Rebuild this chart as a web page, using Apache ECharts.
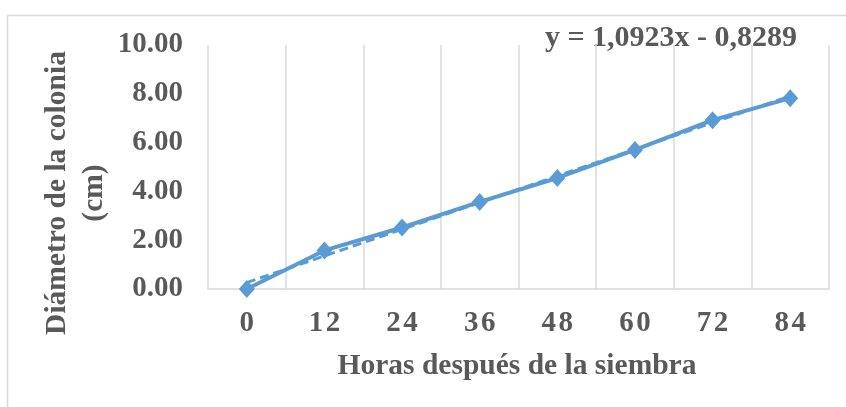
<!DOCTYPE html>
<html>
<head>
<meta charset="utf-8">
<script src="https://cdn.jsdelivr.net/npm/echarts@6/dist/echarts.min.js"></script>
<style>
  html, body { margin: 0; padding: 0; background: #fff; }
  #chart { width: 846px; height: 407px; }
</style>
</head>
<body>
<div id="chart"></div>
<script>
// Colony diameter growth over hours after sowing
const hours = ['0', '12', '24', '36', '48', '60', '72', '84'];
const diameterCm = [0.00, 1.58, 2.52, 3.57, 4.55, 5.70, 6.92, 7.82];
const yTicks = [0, 2, 4, 6, 8, 10];

// Linear trend: y = slope * x + intercept, with x = 1..n over the categories
const trendSlope = 1.0923;
const trendIntercept = -0.8289;
const trendLabel = 'y = 1,0923x - 0,8289';
const trendValues = hours.map((_, i) => +(trendSlope * (i + 1) + trendIntercept).toFixed(4));

const textColor = '#595959';
const lineColor = '#5B9BD5';
const gridColor = '#D9D9D9';
const serif = '"Liberation Serif", "Times New Roman", serif';

const chart = echarts.init(document.getElementById('chart'), null, { renderer: 'canvas' });

chart.setOption({
  animation: false,
  backgroundColor: '#ffffff',
  grid: { left: 208, right: 17, top: 45, bottom: 118 },
  xAxis: {
    type: 'category',
    data: hours,
    boundaryGap: true,
    axisLine: { show: true, lineStyle: { color: gridColor, width: 1.5 } },
    axisTick: { show: false },
    splitLine: { show: true, lineStyle: { color: gridColor, width: 1.5 } },
    axisLabel: {
      color: textColor, fontFamily: serif, fontWeight: 'bold', fontSize: 29, margin: 20,
      formatter: v => v.split('').join('\u200A')
    }
  },
  yAxis: {
    type: 'value',
    min: yTicks[0],
    max: yTicks[yTicks.length - 1],
    interval: 2,
    axisLine: { show: false },
    axisTick: { show: false },
    splitLine: { show: false },
    axisLabel: {
      color: textColor, fontFamily: serif, fontWeight: 'bold', fontSize: 29, margin: 25,
      formatter: v => v.toFixed(2)
    }
  },
  graphic: [
    {
      type: 'rect',
      shape: { x: 7.5, y: 15.5, width: 900, height: 500 },
      style: { fill: 'none', stroke: gridColor, lineWidth: 1.5 },
      silent: true, z: -1
    },
    {
      type: 'text',
      x: 671, y: 38,
      style: {
        text: trendLabel, fill: textColor, font: 'bold 30px ' + serif,
        textAlign: 'center', textVerticalAlign: 'middle'
      }
    },
    {
      type: 'text',
      x: 517, y: 366,
      style: {
        text: 'Horas después de la siembra', fill: textColor, font: 'bold 29.5px ' + serif,
        textAlign: 'center', textVerticalAlign: 'middle'
      }
    },
    {
      type: 'text',
      x: 76, y: 193,
      rotation: Math.PI / 2,
      style: {
        text: 'Diámetro de la colonia\n(cm)', fill: textColor, font: 'bold 29.5px ' + serif,
        textAlign: 'center', textVerticalAlign: 'middle', lineHeight: 37
      }
    }
  ],
  series: [
    {
      name: 'Diámetro',
      type: 'line',
      data: diameterCm,
      symbol: 'diamond',
      symbolSize: [16, 18],
      itemStyle: { color: lineColor },
      lineStyle: { color: lineColor, width: 4 },
      z: 3
    },
    {
      name: 'Lineal',
      type: 'line',
      data: trendValues,
      symbol: 'none',
      lineStyle: { color: lineColor, width: 3, type: [9, 5] },
      z: 2
    }
  ]
});
</script>
</body>
</html>
